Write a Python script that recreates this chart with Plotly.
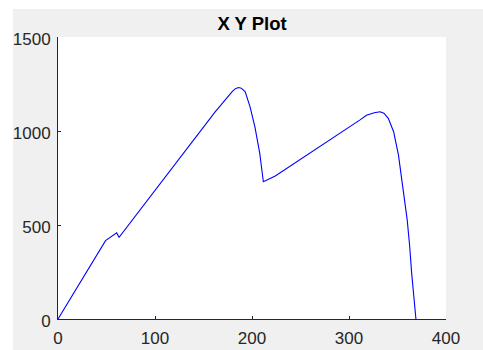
import plotly.graph_objects as go

# Data
x_vals = [0, 49, 60.5, 63, 162, 172, 176, 180, 183, 186, 189, 193, 198, 203, 208, 211.7,
          224, 250, 311, 318, 326, 332, 336, 340.5, 346, 351, 354.3, 357.7, 360, 362.5, 364.6, 369]
y_vals = [0, 417, 458, 435, 1102, 1164, 1190, 1212, 1225, 1231, 1228, 1208, 1128, 1022, 881, 730,
          761, 849, 1058, 1084, 1097, 1102, 1095, 1067, 996, 872, 748, 607, 527, 390, 244, 0]

x_ticks = [0, 100, 200, 300, 400]
y_ticks = [0, 500, 1000, 1500]
title_text = "X Y Plot"

axis_col = "#262626"
font_fam = "Liberation Sans, Arial, sans-serif"

fig = go.Figure()
fig.add_trace(go.Scatter(x=x_vals, y=y_vals, mode="lines",
                         line=dict(color="#0000ff", width=1.1), showlegend=False,
                         hoverinfo="skip"))

W, H = 483, 350
ml, mr, mt, mb = 58, 37, 37, 31
pw, ph = W - ml - mr, H - mt - mb

fig.update_layout(
    width=W, height=H,
    margin=dict(l=ml, r=mr, t=mt, b=mb, pad=0, autoexpand=False),
    paper_bgcolor="#f0f0f0",
    plot_bgcolor="white",
    title=dict(text="<b>" + title_text + "</b>", x=(ml + pw / 2) / W, xanchor="center",
               y=1 - 29.5 / H, yanchor="bottom",
               font=dict(family=font_fam, size=18.5, color="black")),
    xaxis=dict(range=[0, 400], tickvals=x_ticks, ticks="inside", ticklen=3, tickcolor=axis_col,
               showline=True, linecolor=axis_col, linewidth=1, showgrid=False, zeroline=False,
               mirror=False, ticklabelstandoff=4, automargin=False,
               tickfont=dict(family=font_fam, size=17, color=axis_col)),
    yaxis=dict(range=[0, 1500], tickvals=y_ticks, ticks="inside", ticklen=3, tickcolor=axis_col,
               showline=True, linecolor=axis_col, linewidth=1, showgrid=False, zeroline=False,
               mirror=False, ticklabelshift=2, ticklabelstandoff=3, automargin=False,
               tickfont=dict(family=font_fam, size=17, color=axis_col)),
    shapes=[
        # white strip on top
        dict(type="rect", xref="paper", yref="paper", layer="below",
             x0=-ml / pw, x1=(W - ml) / pw,
             y0=(H - mb - 9) / ph, y1=(H - mb) / ph,
             fillcolor="white", line=dict(width=0)),
        # white strip on the left
        dict(type="rect", xref="paper", yref="paper", layer="below",
             x0=-ml / pw, x1=(13 - ml) / pw,
             y0=-mb / ph, y1=(H - mb) / ph,
             fillcolor="white", line=dict(width=0)),
    ],
)

fig.write_html("out.html")
